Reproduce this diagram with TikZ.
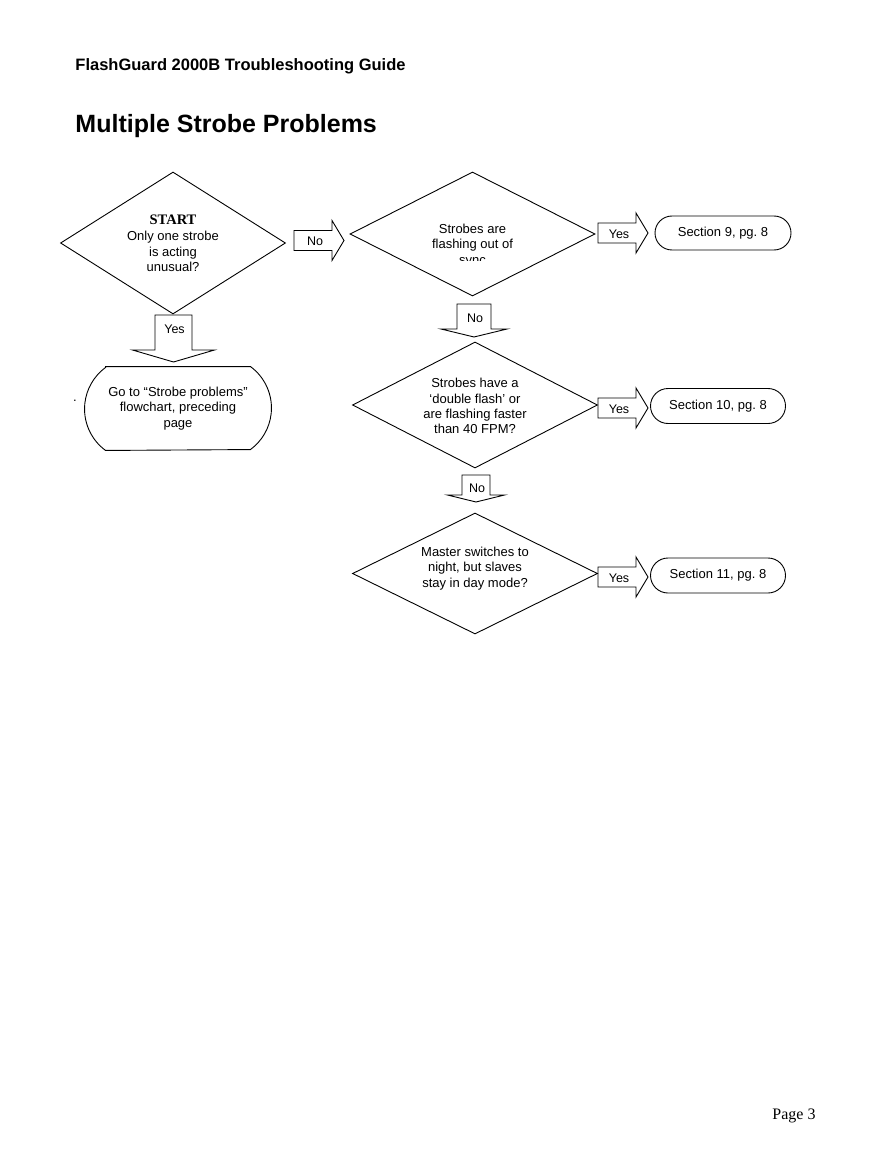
\documentclass[tikz,border=0pt]{standalone}
\usepackage{fontspec}
\setmainfont{Liberation Sans}
\newfontfamily\timesfont{Liberation Serif}
\usetikzlibrary{shapes.geometric,shapes.misc}

\begin{document}
\begin{tikzpicture}[x=1pt,y=-1pt,line width=0.9pt,
    question/.style={draw,diamond,inner sep=0pt,minimum width=245,minimum height=124},
    qtext/.style={align=center,inner sep=0pt,font=\fontsize{13}{15.2}\selectfont},
    endbox/.style={draw,rounded rectangle,minimum width=135,minimum height=35,inner sep=0pt,font=\fontsize{13}{15.5}\selectfont},
    arrowtext/.style={inner sep=0pt,font=\fontsize{12.5}{15}\selectfont}]
    \path[fill=white] (0,0) rectangle (892,1155);

    \node[anchor=base west,inner sep=0pt,font=\bfseries\fontsize{16.5}{20}\selectfont] (guide) at (75,71) {FlashGuard 2000B Troubleshooting Guide};
    \node[anchor=base west,inner sep=0pt,font=\bfseries\fontsize{25}{30}\selectfont] (title) at (75,133) {Multiple Strobe Problems};

    % decisions
    \node[question,minimum width=225,minimum height=142] (start) at (173,243) {};
    \node[question] (sync) at (472.5,234) {};
    \node[question,minimum height=126] (double) at (475,405) {};
    \node[question,minimum height=121] (night) at (475,573.5) {};

    \node[qtext] (starttext) at (173,243) {{\timesfont\bfseries\fontsize{14.5}{16}\selectfont START}\\[1.5pt]Only one strobe\\is acting\\unusual?};
    \begin{scope}
      \clip (350,160) rectangle (600,261);
      \node[qtext] (synctext) at (472.5,245.5) {Strobes are\\flashing out of\\sync};
    \end{scope}
    \node[qtext] (doubletext) at (475,406) {Strobes have a\\‘double flash’ or\\are flashing faster\\than 40 FPM?};
    \node[qtext] (nighttext) at (475,568.5) {Master switches to\\night, but slaves\\stay in day mode?};

    % block arrows to the right
    \foreach \n/\x/\y/\t in {no1/294/240.5/No, yes1/598/233/Yes, yes2/598/408/Yes, yes3/598/577/Yes} {
      \draw (\x,\y-10) -- ++(38,0) -- ++(0,-10) -- ++(12,20) -- ++(-12,20) -- ++(0,-10) -- ++(-38,0) -- cycle;
      \node[arrowtext] (\n) at (\x+21,\y+1) {\t};
    }
    % block arrows downwards
    \foreach \n/\x/\ya/\yb/\yc/\a/\b/\ty/\t in {yes0/173.5/315/350/362/18.5/41/329/Yes, no2/474/304/329/337/17/33/318/No, no3/476/475/495/502/14/28.5/488/No} {
      \draw (\x-\a,\ya) -- (\x+\a,\ya) -- (\x+\a,\yb) -- (\x+\b,\yb) -- (\x,\yc) -- (\x-\b,\yb) -- (\x-\a,\yb) -- cycle;
      \node[arrowtext] (\n) at (\x+1,\ty) {\t};
    }

    % end points
    \node[endbox,minimum width=136,minimum height=34] (sec9) at (723,233) {Section 9, pg.\ 8};
    \node[endbox] (sec10) at (718,406) {Section 10, pg.\ 8};
    \node[endbox] (sec11) at (718,575.5) {Section 11, pg.\ 8};
    \node[minimum width=186,minimum height=83,inner sep=0pt,align=center,font=\fontsize{13}{15.5}\selectfont] (goto) at (178,408.5) {Go to “Strobe problems”\\flowchart, preceding\\page};
    \draw ([xshift=21pt]goto.north west) -- ([xshift=-21pt]goto.north east)
      arc[start angle=53.7,end angle=-53.7,radius=51.5pt]
      -- ([xshift=21pt]goto.south west)
      arc[start angle=233.7,end angle=126.3,radius=51.5pt] -- cycle;
    \node[inner sep=0pt,font=\fontsize{13}{15}\selectfont] (dot) at (75,401) {.};

    \node[anchor=base west,inner sep=0pt,font=\timesfont\fontsize{16}{19}\selectfont] (page) at (772,1119) {Page 3};
\end{tikzpicture}
\end{document}
